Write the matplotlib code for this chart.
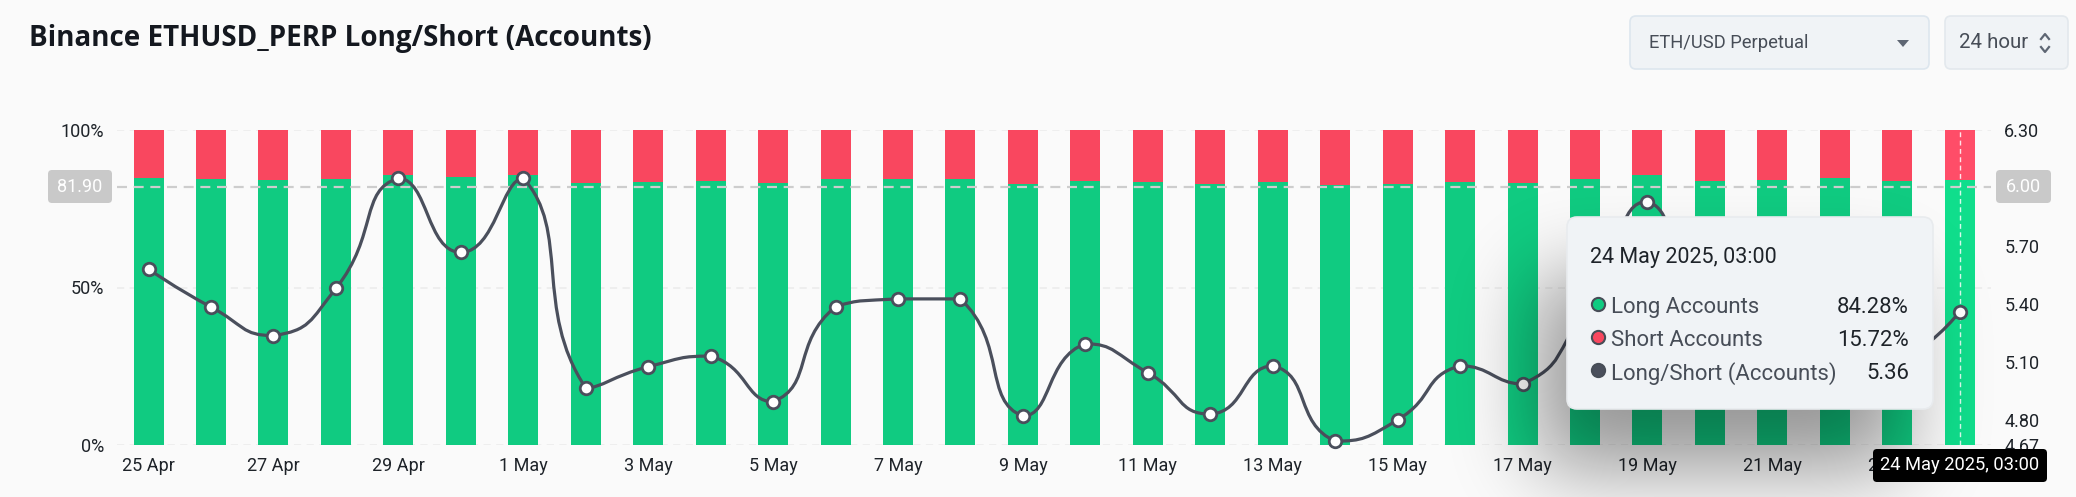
import numpy as np
import matplotlib
matplotlib.use("Agg")
import matplotlib.pyplot as plt
from matplotlib.path import Path
from matplotlib.patches import PathPatch, FancyBboxPatch, Polygon

days = ["25 Apr","26 Apr","27 Apr","28 Apr","29 Apr","30 Apr","1 May","2 May","3 May","4 May",
        "5 May","6 May","7 May","8 May","9 May","10 May","11 May","12 May","13 May","14 May",
        "15 May","16 May","17 May","18 May","19 May","20 May","21 May","22 May","23 May","24 May"]
long_pct = [84.9,84.3,84.0,84.55,85.8,85.0,85.8,83.3,83.6,83.7,
            83.1,84.3,84.3,84.3,82.9,83.9,83.5,82.9,83.6,82.5,
            82.8,83.6,83.3,84.3,85.6,83.8,84.1,84.9,83.7,84.28]
short_pct = [100 - v for v in long_pct]
ratio = [5.58,5.384,5.236,5.48,6.05,5.667,6.05,4.965,5.075,5.13,
         4.894,5.386,5.426,5.426,4.82,5.194,5.044,4.83,5.079,4.69,
         4.80,5.08,4.986,5.37,5.93,5.17,5.29,5.62,5.13,5.36]
left_ticks = [0, 50, 100]
left_labels = ["0%", "50%", "100%"]
right_ticks = [4.67, 4.80, 5.10, 5.40, 5.70, 6.30]
right_labels = ["4.67", "4.80", "5.10", "5.40", "5.70", "6.30"]
title = "Binance ETHUSD_PERP Long/Short (Accounts)"

W, H = 2076, 497
BG = "#FAFAFA"; GREEN = "#10CB81"; RED = "#F9475F"; LINE = "#4A4F5C"
FONT = "Roboto"
plt.rcParams["font.family"] = FONT

fig = plt.figure(figsize=(W/100, H/100), dpi=100, facecolor=BG)
L, R, T, B = 117.3, 1991.0, 130.0, 445.0
ax = fig.add_axes([L/W, 1-B/H, (R-L)/W, (B-T)/H], facecolor="none")
x = np.arange(len(days))
ax.set_xlim(-0.5, len(days)-0.5)
ax.set_ylim(0, 100)
for t in left_ticks:
    ax.axhline(t, color="#EDEDED", lw=1.3, dashes=(4, 3), zorder=0)
green_cols = [GREEN]*(len(days)-1) + ["#10DE8C"]
red_cols = [RED]*(len(days)-1) + ["#FF4D68"]
ax.bar(x, long_pct, width=0.48, color=green_cols, zorder=2)
ax.bar(x, short_pct, bottom=long_pct, width=0.48, color=red_cols, zorder=2)
ax.axhline(81.9, color="#CDCDCD", lw=1.6, dashes=(4.5, 3), zorder=3)
ax.axvline(x[-1], color="#FFFFFF", lw=1.0, dashes=(3.5, 2.5), alpha=.85, zorder=3)
ax.set_xticks(x[::2], days[::2])
ax.set_yticks(left_ticks, left_labels)
ax.tick_params(length=0, labelsize=13, colors="#1E2329")
ax.tick_params(axis="x", pad=8.5)
ax.tick_params(axis="y", pad=9.5)
for s in ax.spines.values():
    s.set_visible(False)

ax2 = ax.twinx()
ax2.set_ylim(4.67, 6.30)
ax2.set_yticks(right_ticks, right_labels)
ax2.tick_params(length=0, labelsize=13, colors="#1E2329", pad=9.5)
for s in ax2.spines.values():
    s.set_visible(False)

# smoothed line (bezier through the points, tangents from neighbouring points)
sx = (R-L)/len(days); sy = (B-T)/(6.30-4.67)
SM = 0.55
y = np.array(ratio)
n = len(y)
verts = [(x[0], y[0])]; codes = [Path.MOVETO]
cp_out = [(x[0], y[0])]; cp_in = [None]
for i in range(1, n):
    if i == n-1:
        cp_in.append((x[i], y[i])); cp_out.append((x[i], y[i])); continue
    vx, vy = x[i+1]-x[i-1], y[i+1]-y[i-1]
    lp = np.hypot((x[i]-x[i-1])*sx, (y[i]-y[i-1])*sy)
    ln = np.hypot((x[i+1]-x[i])*sx, (y[i+1]-y[i])*sy)
    r = ln/(ln+lp)
    c1 = (x[i]+vx*SM*r, y[i]+vy*SM*r)
    c0 = (x[i]-vx*SM*(1-r), y[i]-vy*SM*(1-r))
    c1 = (c1[0], min(max(c1[1], min(y[i], y[i+1])), max(y[i], y[i+1])))
    c0 = (c0[0], min(max(c0[1], min(y[i], y[i-1])), max(y[i], y[i-1])))
    cp_in.append(c0); cp_out.append(c1)
for i in range(1, n):
    verts += [cp_out[i-1], cp_in[i], (x[i], y[i])]
    codes += [Path.CURVE4]*3
ax2.add_patch(PathPatch(Path(verts, codes), fc="none", ec=LINE, lw=2.3, zorder=4))
ax2.plot(x, y, ls="none", marker="o", ms=9, mfc="white", mec=LINE, mew=2.0, zorder=5, clip_on=False)

# overlay in pixel coordinates
ov = fig.add_axes([0, 0, 1, 1], facecolor="none")
ov.set_axis_off()
TX0, TX1, TY0, TY1 = 1567, 1933, 217, 409

def blur(a, s):
    k = np.exp(-0.5*(np.arange(-3*s, 3*s+1)/s)**2); k /= k.sum()
    a = np.apply_along_axis(lambda v: np.convolve(v, k, mode="same"), 0, a)
    return np.apply_along_axis(lambda v: np.convolve(v, k, mode="same"), 1, a)
pad = 200
m = np.zeros((H+2*pad, W+2*pad))
m[TY0+60+pad:TY1+60+pad, TX0-30+pad:TX1-30+pad] = 1
m = blur(m, 40)[pad:-pad, pad:-pad]*0.40
img = np.zeros((H, W, 4)); img[..., 3] = m
ov.imshow(img, extent=(0, W, H, 0), aspect="auto", zorder=1, interpolation="nearest")

def box(x0, y0, x1, y1, fc, ec="none", r=6, z=2, lw=1.2):
    ov.add_patch(FancyBboxPatch((x0+r, y0+r), x1-x0-2*r, y1-y0-2*r,
                 boxstyle=f"round,pad={r},rounding_size={r}", fc=fc, ec=ec, lw=lw, zorder=z))

box(48, 170, 112, 203, "#C9C9C9", r=4)
box(1996, 170, 2051, 203, "#C9C9C9", r=4)
ov.text(80, 186.5, "81.90", color="white", ha="center", va="center", fontsize=13)
ov.text(2023.5, 186.5, "6.00", color="white", ha="center", va="center", fontsize=13)

box(1630, 16, 1929, 69, "#F0F3F6", "#DDE6EE")
box(1945, 16, 2068, 69, "#F0F3F6", "#E3E8ED")
ov.text(1649, 43, "ETH/USD Perpetual", color="#474D57", ha="left", va="center", fontsize=13.2)
ov.add_patch(Polygon([(1897, 40), (1909, 40), (1903, 47)], fc="#5E6673", ec="none", zorder=3))
ov.text(1959, 43, "24 hour", color="#474D57", ha="left", va="center", fontsize=14.8)
ov.plot([2041, 2045, 2049], [39, 34, 39], color="#5E6673", lw=1.6, zorder=3)
ov.plot([2041, 2045, 2049], [47, 52, 47], color="#5E6673", lw=1.6, zorder=3)

ov.text(29, 38.5, title, color="#14181F", ha="left", va="center", fontsize=19.95,
        fontweight="bold", family="Open Sans")

box(TX0, TY0, TX1, TY1, "#F0F3F6", "#E8EBEE", r=10, z=3)
ov.text(1590.5, 258, "24 May 2025, 03:00", color="#1E2329", ha="left", va="center", fontsize=15.5, zorder=4)
rows = [("Long Accounts", "84.28%", GREEN, 306),
        ("Short Accounts", "15.72%", RED, 339),
        ("Long/Short (Accounts)", "5.36", LINE, 372)]
for lab, val, col, yy in rows:
    ov.plot([1598], [yy-2], marker="o", ms=9.5, mfc=col, mec="#474D57", mew=1.5, zorder=4)
    ov.text(1611, yy+1.5, lab, color="#474D57", ha="left", va="center", fontsize=15.9, zorder=4)
    ov.text(1909, yy+1.5, val, color="#1E2329", ha="right", va="center", fontsize=15.9, zorder=4)

box(1873, 449, 2047, 482, "#000000", r=4, z=5)
ov.text(1960, 465, "24 May 2025, 03:00", color="white", ha="center", va="center", fontsize=13.2, zorder=6)

ov.set_xlim(0, W)
ov.set_ylim(H, 0)
fig.savefig("out.png", dpi=100, facecolor=BG)
